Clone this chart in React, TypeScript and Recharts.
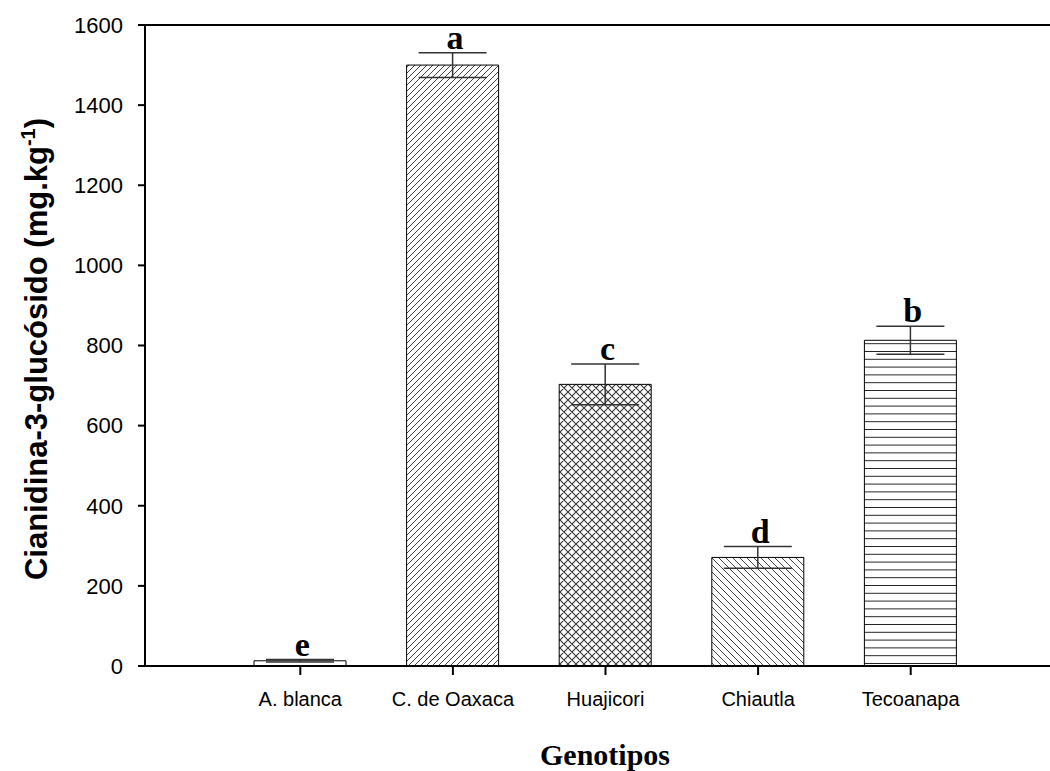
import React from 'react';
import { ComposedChart, Bar, Cell, ErrorBar, Line, LabelList, XAxis, YAxis, ReferenceLine } from 'recharts';

const categories = ['A. blanca', 'C. de Oaxaca', 'Huajicori', 'Chiautla', 'Tecoanapa'];
const means = [13, 1500, 703, 271, 813];
const errors = [3, 31, 51, 27, 35];
const letters = ['e', 'a', 'c', 'd', 'b'];
const yTicks = [0, 200, 400, 600, 800, 1000, 1200, 1400, 1600];

const data = categories.map((name, i) => ({
  name,
  value: means[i],
  err: errors[i],
  top: means[i] + errors[i],
  letter: letters[i],
}));

const fills = ['#ffffff', 'url(#patFwd)', 'url(#patCross)', 'url(#patBack)', 'url(#patHoriz)'];

const SANS = '"Liberation Sans", Arial, sans-serif';
const SERIF = '"Liberation Serif", "Times New Roman", serif';

const YLabel = () => (
  <text
    transform="translate(47,349) rotate(-90)"
    textAnchor="middle"
    fontFamily={SANS}
    fontWeight="bold"
    fontSize={31}
    fill="#000"
  >
    <tspan>Cianidina-3-glucósido (mg.kg</tspan>
    <tspan dy={-12} fontSize={20}>-1</tspan>
    <tspan dy={12}>)</tspan>
  </text>
);

const XLabel = () => (
  <text x={605} y={765} textAnchor="middle" fontFamily={SERIF} fontWeight="bold" fontSize={30} fill="#000">
    Genotipos
  </text>
);

const LetterLabel = (props: any) => {
  const { x, y, value } = props;
  if (x == null || y == null) return null;
  return (
    <text x={x + 2} y={y - 4} textAnchor="middle" fontFamily={SERIF} fontWeight="bold" fontSize={34} fill="#000">
      {value}
    </text>
  );
};

export default function App() {
  return (
    <div style={{ position: 'absolute', left: 0, top: 0, width: 1050, height: 771, background: '#fff' }}>
      <svg width={0} height={0} style={{ position: 'absolute' }}>
        <defs>
          <pattern id="patFwd" patternUnits="userSpaceOnUse" width={6} height={6}>
            <rect width={6} height={6} fill="#fff" />
            <path d="M0,6 L6,0 M-1.5,1.5 L1.5,-1.5 M4.5,7.5 L7.5,4.5" stroke="#444" strokeWidth={1} />
          </pattern>
          <pattern id="patBack" patternUnits="userSpaceOnUse" width={7} height={7}>
            <rect width={7} height={7} fill="#fff" />
            <path d="M0,0 L7,7 M-1.75,5.25 L1.75,8.75 M5.25,-1.75 L8.75,1.75" stroke="#444" strokeWidth={1} />
          </pattern>
          <pattern id="patCross" patternUnits="userSpaceOnUse" width={8} height={8}>
            <rect width={8} height={8} fill="#fff" />
            <path
              d="M0,8 L8,0 M-2,2 L2,-2 M6,10 L10,6 M0,0 L8,8 M-2,6 L2,10 M6,-2 L10,2"
              stroke="#333"
              strokeWidth={1.1}
            />
          </pattern>
          <pattern id="patHoriz" patternUnits="userSpaceOnUse" width={8} height={7.8}>
            <rect width={8} height={7.8} fill="#fff" />
            <path d="M0,0.5 L8,0.5" stroke="#222" strokeWidth={1} />
          </pattern>
        </defs>
      </svg>
      <ComposedChart
        width={1050}
        height={771}
        data={data}
        margin={{ top: 25, right: 0, bottom: 0, left: 0 }}
        barSize={92}
      >
        <XAxis
          dataKey="name"
          height={105}
          padding={{ left: 79, right: 63 }}
          axisLine={{ stroke: '#000', strokeWidth: 2 }}
          tickLine={{ stroke: '#000', strokeWidth: 2 }}
          tickSize={9}
          tickMargin={17}
          tick={{ fill: '#000', fontSize: 20, fontFamily: SANS }}
          interval={0}
          label={<XLabel />}
        />
        <YAxis
          width={145}
          domain={[0, 1600]}
          ticks={yTicks}
          interval={0}
          axisLine={{ stroke: '#000', strokeWidth: 2 }}
          tickLine={{ stroke: '#000', strokeWidth: 2 }}
          tickSize={7}
          tickMargin={15}
          tick={{ fill: '#000', fontSize: 22, fontFamily: SANS }}
          label={<YLabel />}
        />
        <ReferenceLine y={1600} stroke="#000" strokeWidth={2} />
        <Bar dataKey="value" stroke="#000" strokeWidth={1} isAnimationActive={false}>
          {data.map((d, i) => (
            <Cell key={d.name} fill={fills[i]} />
          ))}
          <ErrorBar dataKey="err" width={34} stroke="#333" strokeWidth={1.5} />
        </Bar>
        <Line
          dataKey="top"
          stroke="none"
          dot={false}
          activeDot={false}
          isAnimationActive={false}
        >
          <LabelList dataKey="letter" content={<LetterLabel />} />
        </Line>
      </ComposedChart>
    </div>
  );
}
